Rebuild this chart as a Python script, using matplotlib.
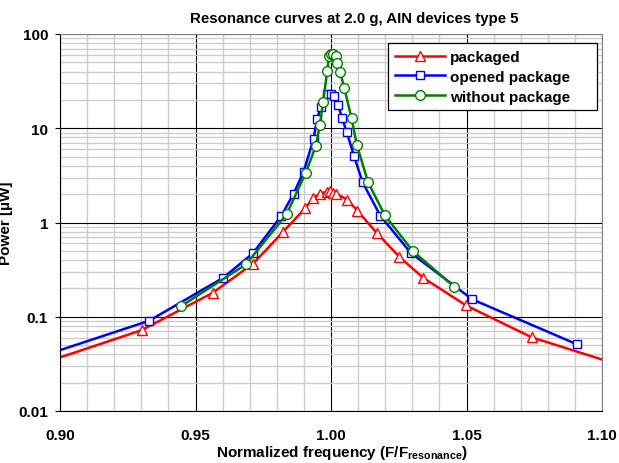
import matplotlib
matplotlib.use('Agg')
import matplotlib.pyplot as plt
from matplotlib.ticker import FixedLocator, LogLocator, NullFormatter, FuncFormatter

plt.rcParams['font.family'] = ['Liberation Sans', 'DejaVu Sans']
plt.rcParams['font.weight'] = 'bold'
plt.rcParams['mathtext.fontset'] = 'custom'
plt.rcParams['mathtext.bf'] = 'Liberation Sans:bold'
plt.rcParams['mathtext.rm'] = 'Liberation Sans:bold'

# packaged (first and last points carry the line to the axis edges, no marker)
pack_f = [0.900, 0.9301, 0.9563, 0.9713, 0.9824, 0.9904, 0.9934, 0.9959, 0.9984,
          0.9996, 1.0006, 1.0018, 1.0060, 1.0097, 1.0168, 1.0252, 1.0340, 1.0498,
          1.0741, 1.100]
pack_p = [0.037, 0.072, 0.179, 0.367, 0.80, 1.41, 1.80, 2.03, 2.12,
          2.15, 2.08, 2.03, 1.75, 1.34, 0.78, 0.433, 0.259, 0.132,
          0.0604, 0.0352]

# opened package (first point has no marker)
open_f = [0.900, 0.9329, 0.9602, 0.9711, 0.9817, 0.9862, 0.9899, 0.9936, 0.9948,
          0.9963, 0.9986, 0.9999, 1.0011, 1.0027, 1.0041, 1.0058, 1.0085, 1.0117,
          1.0182, 1.0294, 1.0521, 1.0909]
open_p = [0.0442, 0.0907, 0.259, 0.469, 1.18, 2.03, 3.45, 7.78, 12.4,
          17.0, 23.3, 23.3, 22.1, 17.5, 12.7, 9.16, 5.05, 2.66,
          1.18, 0.477, 0.153, 0.0508]

# without package
bare_f = [0.9448, 0.9686, 0.9836, 0.9907, 0.9944, 0.9959, 0.9971, 0.9986, 0.9993,
          1.0000, 1.0008, 1.0017, 1.0023, 1.0033, 1.0049, 1.0076, 1.0095, 1.0137,
          1.0199, 1.0301, 1.0455]
bare_p = [0.130, 0.359, 1.22, 3.37, 6.5, 10.9, 19.1, 40.2, 59.0,
          61.2, 61.2, 58.6, 49.7, 39.9, 26.8, 12.7, 6.72, 2.66,
          1.19, 0.501, 0.208]

x_ticks = [0.90, 0.95, 1.00, 1.05, 1.10]
y_ticks = [0.01, 0.1, 1, 10, 100]
y_labels = ['0.01', '0.1', '1', '10', '100']

W, H = 619, 464
fig = plt.figure(figsize=(W / 100, H / 100), dpi=100)
ax = fig.add_axes([60 / W, 52 / H, 542 / W, 377 / H])
ax.set_yscale('log')
ax.set_xlim(0.90, 1.10)
ax.set_ylim(0.01, 100)

# grid: gray minor, black major
ax.xaxis.set_major_locator(FixedLocator(x_ticks))
ax.xaxis.set_minor_locator(FixedLocator([0.90 + 0.01 * i for i in range(21)]))
ax.yaxis.set_major_locator(FixedLocator(y_ticks))
ax.yaxis.set_minor_locator(LogLocator(base=10, subs=range(2, 10)))
ax.yaxis.set_minor_formatter(NullFormatter())
ax.yaxis.set_major_formatter(FuncFormatter(lambda v, _: y_labels[y_ticks.index(v)] if v in y_ticks else ''))
ax.xaxis.set_major_formatter(FuncFormatter(lambda v, _: f'{v:.2f}'))
ax.grid(which='minor', color='#cccccc', linewidth=1.0)
ax.grid(which='major', color='black', linewidth=0.8)
ax.set_axisbelow(True)
ax.tick_params(which='minor', length=0)
ax.tick_params(which='major', direction='out', length=3.6, width=0.8, labelsize=11, pad=5)
ax.tick_params(axis='x', which='major', length=0, pad=12)
for side in ['top', 'right']:
    ax.spines[side].set_color('#808080')
for side in ['left', 'bottom']:
    ax.spines[side].set_color('black')

ax.plot(pack_f, pack_p, color='#ff0000', linewidth=1.8, marker='^', markersize=7.5,
        markerfacecolor='white', markeredgecolor='#ff0000', markeredgewidth=1.0,
        markevery=slice(1, len(pack_f) - 1), label='packaged')
ax.plot(open_f, open_p, color='#0000ff', linewidth=1.8, marker='s', markersize=6,
        markerfacecolor='white', markeredgecolor='#0000ff', markeredgewidth=1.0,
        markevery=slice(1, len(open_f)), label='opened package')
ax.plot(bare_f, bare_p, color='#008000', linewidth=1.8, marker='o', markersize=7,
        markerfacecolor='white', markeredgecolor='#008000', markeredgewidth=1.0,
        label='without package')

leg = ax.legend(loc='upper left', bbox_to_anchor=(0.605, 0.806, 0.386, 0.170), mode='expand',
                fontsize=11, frameon=True, fancybox=False, edgecolor='black', framealpha=1,
                borderpad=0.45, handlelength=3.3, labelspacing=0.38, handletextpad=0.3,
                borderaxespad=0)
leg.get_frame().set_linewidth(0.9)

# title fitted to the width it has in the original (about 188..520 px)
title = fig.text(354 / W, 1 - 19 / H, 'Resonance curves at 2.0 g, AIN devices type 5',
                 ha='center', va='center', fontsize=10, fontweight='bold')
renderer = fig.canvas.get_renderer()
tw = title.get_window_extent(renderer).width
title.set_fontsize(10 * 330 / tw)

fig.text(342 / W, 1 - 453 / H, r'Normalized frequency (F/F$_\mathbf{resonance}$)',
         ha='center', va='center', fontsize=11, fontweight='bold')
ax.set_ylabel('Power [µW]', fontsize=11, fontweight='bold')
ax.yaxis.set_label_coords(-(60 - 13) / 542, 0.5)

fig.savefig('out.png', dpi=100)
